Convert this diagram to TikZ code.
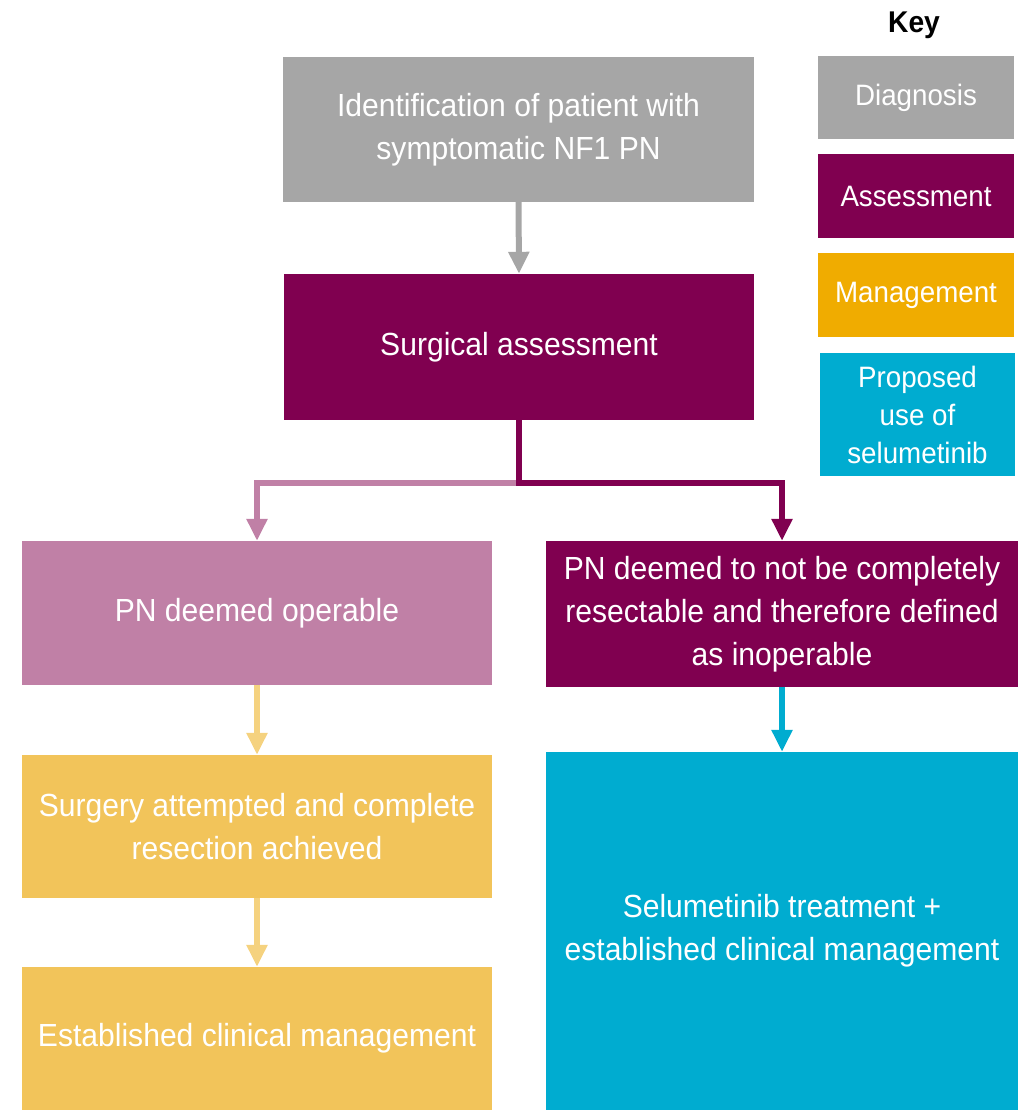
\documentclass[tikz,border=0pt]{standalone}
\usepackage{fontspec}
\setmainfont{Liberation Sans}[FakeStretch=0.94]
\usetikzlibrary{arrows.meta}
\definecolor{cdiag}{RGB}{166,166,166}
\definecolor{cassess}{RGB}{128,0,80}
\definecolor{cassesslt}{RGB}{192,128,166}
\definecolor{cmgmt}{RGB}{240,172,0}
\definecolor{cmgmtlt}{RGB}{242,196,90}
\definecolor{cmgmtarr}{RGB}{245,210,127}
\definecolor{cselu}{RGB}{0,172,208}
\tikzset{
  box/.style={rectangle, inner sep=0pt, align=center, text=white,
    font=\fontsize{32}{43}\selectfont},
  keybox/.style={box, minimum width=196, font=\fontsize{29.5}{38}\selectfont},
  conn/.style={line width=6, -{Triangle[width=20,length=22]}},
}
\begin{document}
\begin{tikzpicture}[x=1pt,y=-1pt]
\useasboundingbox (0,0) rectangle (1024,1110);
\node[box, fill=cdiag, minimum width=471, minimum height=145] (top) at (518.5,129.5)
  {Identification of patient with\\symptomatic NF1 PN};
\node[box, fill=cassess, minimum width=470, minimum height=146] (surg) at (519,347)
  {Surgical assessment};
\node[box, fill=cassesslt, minimum width=470, minimum height=144] (op) at (257,613)
  {PN deemed operable};
\node[box, fill=cassess, minimum width=472, minimum height=146] (inop) at (782,614)
  {PN deemed to not be completely\\resectable and therefore defined\\as inoperable};
\node[box, fill=cmgmtlt, minimum width=470, minimum height=143] (surgery) at (257,826.5)
  {Surgery attempted and complete\\resection achieved};
\node[box, fill=cmgmtlt, minimum width=470, minimum height=143] (est) at (257,1038.5)
  {Established clinical management};
\node[box, fill=cselu, minimum width=472, minimum height=358] (selu) at (782,931)
  {Selumetinib treatment +\\established clinical management};
% key
\node[font=\fontsize{30}{36}\selectfont\bfseries] (keytitle) at (914,25) {Key};
\node[keybox, fill=cdiag, minimum height=83] (kdiag) at (916,97.5) {Diagnosis};
\node[keybox, fill=cassess, minimum height=84] (kassess) at (916,196) {Assessment};
\node[keybox, fill=cmgmt, minimum height=84] (kmgmt) at (916,295) {Management};
\node[keybox, fill=cselu, minimum width=195, minimum height=123] (kprop) at (917.5,414.5)
  {Proposed\\use of\\selumetinib};
% connectors
\draw[conn, cdiag] (top.south) -- (surg.north);
\coordinate (split) at ([yshift=-63]surg.south);
\draw[conn, cassesslt] (split) -| (op.north);
\draw[line width=6, cassess] (surg.south) -- (split);
\draw[conn, cassess] ([xshift=-3]split) -| (inop.north);
\draw[conn, cmgmtarr] (op.south) -- (surgery.north);
\draw[conn, cmgmtarr] (surgery.south) -- (est.north);
\draw[conn, cselu] (inop.south) -- (selu.north);
\end{tikzpicture}
\end{document}
